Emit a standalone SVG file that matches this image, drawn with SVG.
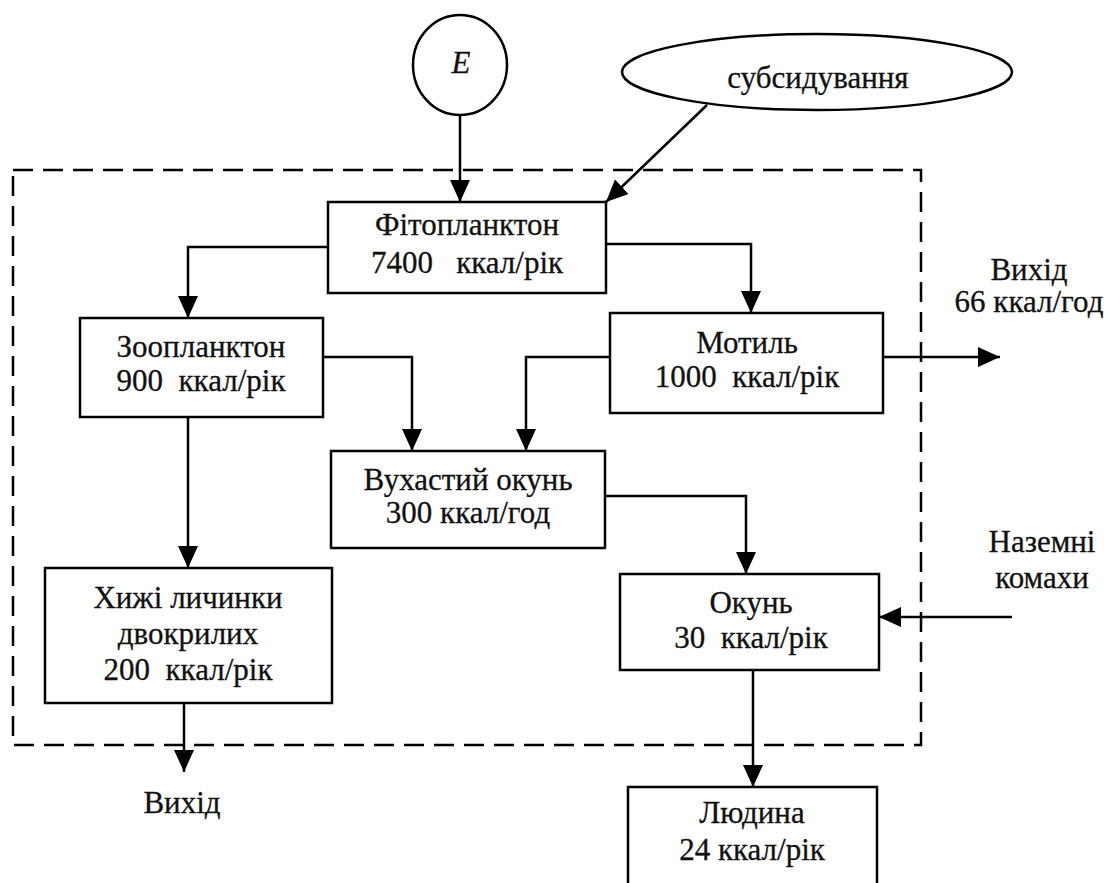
<svg xmlns="http://www.w3.org/2000/svg" width="1110" height="883" viewBox="0 0 1110 883">
<defs>
<marker id="ah" markerWidth="22" markerHeight="20" refX="22" refY="10" orient="auto" markerUnits="userSpaceOnUse">
<path d="M0,0 L22,10 L0,20 Z" fill="#000"/>
</marker>
<style>
.box{fill:#fff;stroke:#000;stroke-width:2.5}
.t{font-family:"Liberation Serif","Times New Roman",serif;font-size:31px;fill:#111;stroke:#111;stroke-width:0.3;text-anchor:middle;white-space:pre}
.c{fill:none;stroke:#000;stroke-width:2.5;marker-end:url(#ah)}
.dash{fill:none;stroke:#000;stroke-width:2.5;stroke-dasharray:20 10}
</style>
</defs>
<rect width="1110" height="883" fill="#fff"/>
<rect class="dash" x="13" y="170" width="908" height="575"/>
<g id="connectors">
<path class="c" d="M460,115 V202"/>
<path class="c" d="M707,105 L606,202"/>
<path class="c" d="M328,247 H188 V318"/>
<path class="c" d="M606,244 H751 V313"/>
<path class="c" d="M323,357 H412 V451"/>
<path class="c" d="M610,357 H526 V451"/>
<path class="c" d="M883,357 H1000"/>
<path class="c" d="M188,417 V568"/>
<path class="c" d="M605,496 H746 V574"/>
<path class="c" d="M1012,617 H879"/>
<path class="c" d="M753,670 V787"/>
<path class="c" d="M184,703 V772"/>
</g>
<g id="E">
<ellipse cx="460" cy="65" rx="47" ry="50" fill="#fff" stroke="#000" stroke-width="2.5"/>
<text class="t" x="461" y="73" font-style="italic" font-size="26">E</text>
</g>
<g id="subsydy">
<ellipse cx="817" cy="72" rx="195" ry="38" fill="#fff" stroke="#000" stroke-width="2.5"/>
<text class="t" x="818" y="88">субсидування</text>
</g>
<g id="fito">
<rect class="box" x="328" y="202" width="278" height="91"/>
<text class="t" x="467" y="235">Фітопланктон</text>
<text class="t" x="467" y="273">7400   ккал/рік</text>
</g>
<g id="zoo">
<rect class="box" x="80" y="318" width="243" height="99"/>
<text class="t" x="201" y="357">Зоопланктон</text>
<text class="t" x="201" y="391">900  ккал/рік</text>
</g>
<g id="motyl">
<rect class="box" x="610" y="313" width="273" height="100"/>
<text class="t" x="747" y="353">Мотиль</text>
<text class="t" x="747" y="387">1000  ккал/рік</text>
</g>
<g id="vuh">
<rect class="box" x="331" y="451" width="274" height="97"/>
<text class="t" x="468" y="490">Вухастий окунь</text>
<text class="t" x="468" y="523">300 ккал/год</text>
</g>
<g id="khyzhi">
<rect class="box" x="45" y="568" width="287" height="135"/>
<text class="t" x="188" y="608">Хижі личинки</text>
<text class="t" x="188" y="644">двокрилих</text>
<text class="t" x="188" y="680">200  ккал/рік</text>
</g>
<g id="okun">
<rect class="box" x="620" y="574" width="259" height="96"/>
<text class="t" x="751" y="613">Окунь</text>
<text class="t" x="751" y="648">30  ккал/рік</text>
</g>
<g id="lyudyna">
<rect class="box" x="628" y="787" width="249" height="110"/>
<text class="t" x="752" y="823">Людина</text>
<text class="t" x="752" y="860">24 ккал/рік</text>
</g>
<g id="vyhid1">
<text class="t" x="1029" y="280">Вихід</text>
<text class="t" x="1029" y="312">66 ккал/год</text>
</g>
<g id="nazemni">
<text class="t" x="1042" y="552">Наземні</text>
<text class="t" x="1042" y="588">комахи</text>
</g>
<g id="vyhid2">
<text class="t" x="182" y="813">Вихід</text>
</g>
</svg>
